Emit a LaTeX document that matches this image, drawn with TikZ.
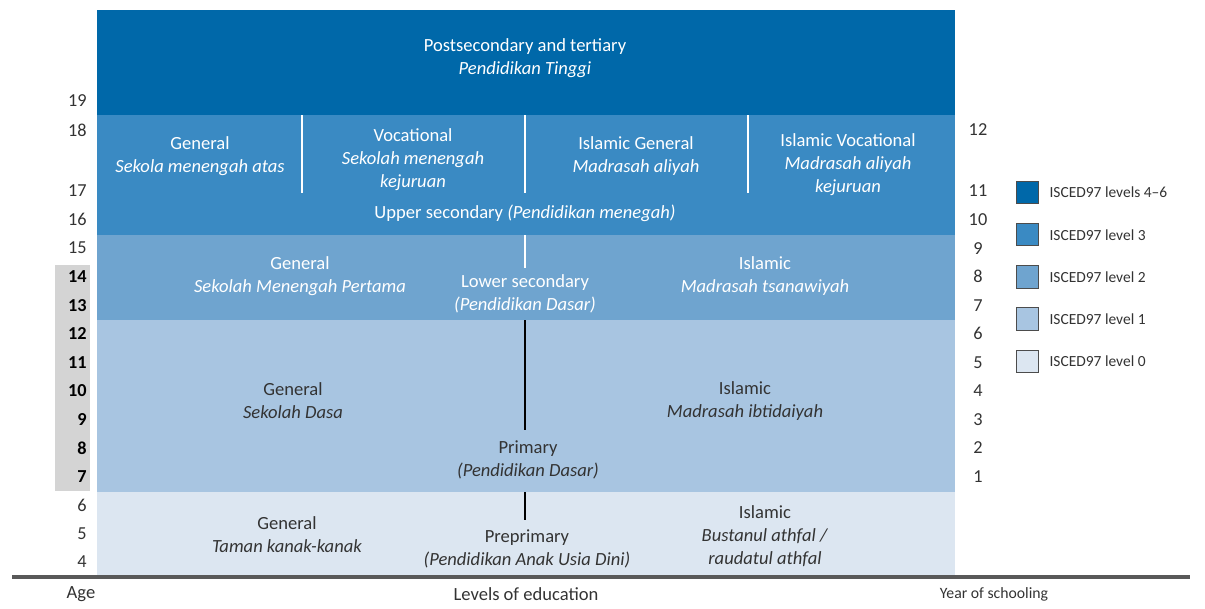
\documentclass[tikz,border=0pt]{standalone}
\usepackage{fontspec}
\setmainfont{Carlito}
\definecolor{lvlsix}{HTML}{0068A9}
\definecolor{lvlthree}{HTML}{3A8AC3}
\definecolor{lvltwo}{HTML}{6FA4CF}
\definecolor{lvlone}{HTML}{A8C5E1}
\definecolor{lvlzero}{HTML}{DCE6F1}
\definecolor{txtgray}{HTML}{333333}
\definecolor{agebox}{HTML}{D4D4D4}
\tikzset{
  lbl/.style={align=center, inner sep=0pt, font=\fontsize{13.2}{16.3}\selectfont},
  wlbl/.style={lbl, text=white},
  dlbl/.style={lbl, text=txtgray},
  agelbl/.style={anchor=east, inner sep=0pt, text=txtgray, font=\fontsize{13}{15}\selectfont},
  yrlbl/.style={inner sep=0pt, text=txtgray, font=\fontsize{13}{15}\selectfont},
  ttl/.style={inner sep=0pt, text=txtgray, font=\fontsize{13.2}{15}\selectfont},
  keybox/.style={draw=gray!60!black, line width=0.8pt, minimum size=0.56cm, inner sep=0pt},
  keylbl/.style={right=0.25cm, inner sep=0pt, text=txtgray, font=\fontsize{11}{13}\selectfont},
  wsep/.style={white, line width=1.4pt},
  bsep/.style={black, line width=2pt}
}
\begin{document}
\begin{tikzpicture}[x=0.025cm, y=-0.025cm]
\useasboundingbox (0,0) rectangle (1205,608);
% bands
\fill[lvlsix] (97,10) rectangle (955,115);
\fill[lvlthree] (97,115) rectangle (955,235);
\fill[lvltwo] (97,235) rectangle (955,320);
\fill[lvlone] (97,320) rectangle (955,492);
\fill[lvlzero] (97,492) rectangle (955,575);
\fill[agebox] (55,265) rectangle (90,491);
% dividers
\foreach \x in {302,525,748}
  \draw[wsep] (\x,115) -- (\x,193);
\draw[wsep] (525,235) -- (525,268);
\draw[bsep] (525,320) -- (525,430);
\draw[bsep] (525,492) -- (525,520);
% baseline
\draw[gray!70!black, line width=2.5pt] (12,577) -- (1190,577);

% tertiary
\node[wlbl] (tert) at (525,58) {Postsecondary and tertiary\\\textit{Pendidikan Tinggi}};
% upper secondary
\node[wlbl] (usgen) at (200,156.5) {General\\\textit{Sekola menengah atas}};
\node[wlbl] (usvoc) at (413,160) {Vocational\\\textit{Sekolah menengah}\\\textit{kejuruan}};
\node[wlbl] (usisl) at (636,156.5) {Islamic General\\\textit{Madrasah aliyah}};
\node[wlbl] (usislvoc) at (848,164.5) {Islamic Vocational\\\textit{Madrasah aliyah}\\\textit{kejuruan}};
\node[wlbl] (upper) at (525,213) {Upper secondary \textit{(Pendidikan menegah)}};
% lower secondary
\node[wlbl] (lsgen) at (300,276) {General\\\textit{Sekolah Menengah Pertama}};
\node[wlbl] (lower) at (525,294) {Lower secondary\\\textit{(Pendidikan Dasar)}};
\node[wlbl] (lsisl) at (765,276) {Islamic\\\textit{Madrasah tsanawiyah}};
% primary
\node[dlbl] (prgen) at (293,401) {General\\\textit{Sekolah Dasa}};
\node[dlbl] (prisl) at (745,401) {Islamic\\\textit{Madrasah ibtidaiyah}};
\node[dlbl] (prim) at (528,459.5) {Primary\\\textit{(Pendidikan Dasar)}};
% preprimary
\node[dlbl] (ppgen) at (287,534.5) {General\\\textit{Taman kanak-kanak}};
\node[dlbl] (prepr) at (527,549) {Preprimary\\\textit{(Pendidikan Anak Usia Dini)}};
\node[dlbl] (ppisl) at (765,536.5) {Islamic\\\textit{Bustanul athfal /}\\\textit{raudatul athfal}};

% ages and years
\node[agelbl] (age19) at (87,101) {19};
\node[agelbl] (age18) at (87,130) {18};
\foreach \a in {4,5,6,15,16,17}
  \node[agelbl] (age\a) at (87,{191+(17-\a)*28.54}) {\a};
\foreach \a in {7,...,14}
  \node[agelbl, font=\fontsize{13}{15}\selectfont\bfseries, text=black] (age\a) at (87,{191+(17-\a)*28.54}) {\a};
\node[yrlbl] (yr12) at (978,130) {12};
\foreach \y in {1,...,11}
  \node[yrlbl] (yr\y) at (978,{191+(11-\y)*28.54}) {\y};

% axis titles
\node[ttl] (agettl) at (81,594) {Age};
\node[ttl] (levttl) at (526,594) {Levels of education};
\node[yrlbl, font=\fontsize{11.2}{13}\selectfont] (yrttl) at (994,594) {Year of schooling};

% key
\foreach \c/\t [count=\i] in {lvlsix/ISCED97 levels 4--6, lvlthree/ISCED97 level 3, lvltwo/ISCED97 level 2, lvlone/ISCED97 level 1, lvlzero/ISCED97 level 0}{
  \node[keybox, fill=\c] (key\i) at (1027.5,{192.5+(\i-1)*42.2}) {};
  \node[keylbl] (keylbl\i) at (key\i.east) {\t};
}
\end{tikzpicture}
\end{document}
